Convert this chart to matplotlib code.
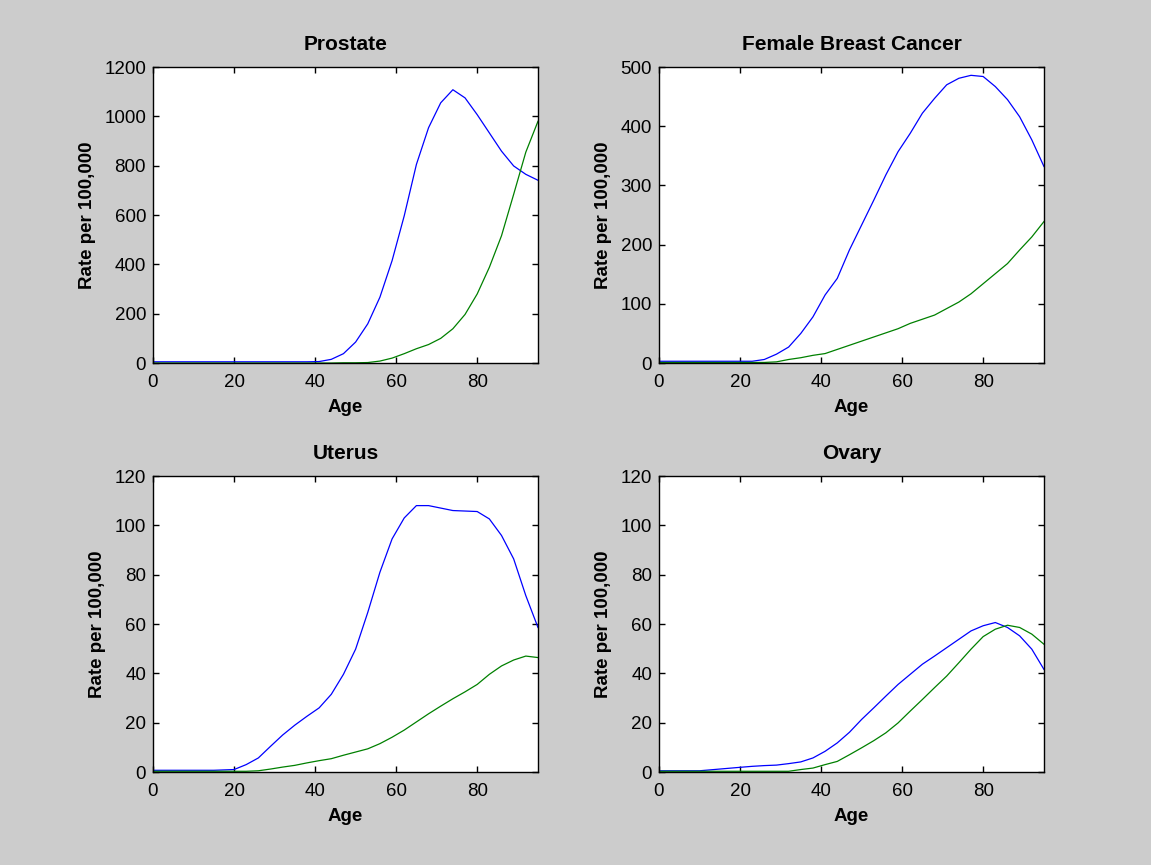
import matplotlib
matplotlib.use("Agg")
import matplotlib.pyplot as plt

plt.rcParams['font.family'] = ['Liberation Sans', 'DejaVu Sans']

ages = [0, 5, 10, 15, 20, 23, 26, 29, 32, 35, 38, 41, 44, 47, 50, 53, 56, 59,
        62, 65, 68, 71, 74, 77, 80, 83, 86, 89, 92, 95]

prostate_blue = [5, 5, 5, 5, 5, 5, 5, 5, 5, 5, 5, 6, 15, 38, 85, 159, 267, 415,
                 597, 805, 954, 1055, 1108, 1075, 1007, 933, 859, 799, 765, 741]
prostate_green = [0, 0, 0, 0, 0, 0, 0, 0, 0, 0, 0, 0, 0, 1, 1, 2, 8, 20,
                  38, 58, 75, 100, 139, 197, 280, 388, 516, 684, 855, 980]

breast_blue = [3, 3, 3, 3, 3, 3, 6, 15, 27, 50, 78, 115, 143, 191, 233, 275, 318, 357,
               388, 422, 447, 470, 481, 486, 484, 467, 445, 416, 377, 332]
breast_green = [1, 1, 1, 1, 1, 1, 1, 2, 6, 9, 13, 16, 23, 30, 37, 44, 51, 58,
                67, 74, 81, 92, 103, 117, 134, 151, 168, 191, 213, 239]

uterus_blue = [0.7, 0.7, 0.7, 0.7, 1.0, 3.0, 5.7, 10.4, 15, 19, 22.6, 26, 31.5, 39.6, 49.8, 64.7, 81, 94.5,
               103, 108, 108, 107, 106, 105.8, 105.6, 102.6, 95.9, 86.4, 71.5, 58.6]
uterus_green = [0.3, 0.3, 0.3, 0.3, 0.3, 0.3, 0.5, 1.2, 2.0, 2.7, 3.7, 4.6, 5.4, 6.8, 8.1, 9.4, 11.5, 14.1,
                17, 20.3, 23.6, 26.7, 29.7, 32.5, 35.5, 39.6, 43, 45.4, 47, 46.4]

ovary_blue = [0.5, 0.5, 0.5, 1.2, 1.9, 2.3, 2.6, 2.8, 3.4, 4.1, 5.7, 8.4, 11.8, 16.1, 21.3, 26, 30.8, 35.5,
              39.6, 43.7, 47, 50.4, 53.8, 57.2, 59.3, 60.6, 58.6, 55.2, 49.8, 41.6]
ovary_green = [0.3, 0.3, 0.3, 0.3, 0.3, 0.3, 0.3, 0.3, 0.3, 1.0, 1.6, 3.0, 4.3, 7.0, 9.8, 12.7, 15.9, 19.9,
               24.7, 29.4, 34.2, 38.9, 44.3, 49.8, 54.9, 57.9, 59.5, 58.6, 55.9, 51.8]

panels = [
    ('Prostate', prostate_blue, prostate_green, 1200, 200),
    ('Female Breast Cancer', breast_blue, breast_green, 500, 100),
    ('Uterus', uterus_blue, uterus_green, 120, 20),
    ('Ovary', ovary_blue, ovary_green, 120, 20),
]

fig = plt.figure(figsize=(11.51, 8.65), dpi=100, facecolor=(0.8, 0.8, 0.8))

lefts = [0.1329, 0.5725, 0.1329, 0.5725]
bottoms = [0.5803, 0.5803, 0.1075, 0.1075]

for (title, blue, green, ymax, ystep), l, b in zip(panels, lefts, bottoms):
    ax = fig.add_axes([l, b, 0.3345, 0.3422])
    ax.plot(ages, blue, color=(0, 0, 1), linewidth=0.9)
    ax.plot(ages, green, color=(0, 0.5, 0), linewidth=0.9)
    ax.set_xlim(0, 95)
    ax.set_ylim(0, ymax)
    ax.set_xticks([0, 20, 40, 60, 80])
    ax.set_yticks(range(0, ymax + 1, ystep))
    ax.tick_params(direction='in', top=True, right=True, length=4, width=1,
                   labelsize=13.5, colors='black')
    ax.tick_params(axis='x', pad=8)
    ax.tick_params(axis='y', pad=5)
    for s in ax.spines.values():
        s.set_linewidth(1)
    ax.set_title(title, fontsize=15, fontweight='bold', pad=12)
    ax.set_xlabel('Age', fontsize=13.5, fontweight='bold', labelpad=6)
    ax.set_ylabel('Rate per 100,000', fontsize=13.5, fontweight='bold', labelpad=6)

fig.savefig('out.png', dpi=100, facecolor=fig.get_facecolor())
